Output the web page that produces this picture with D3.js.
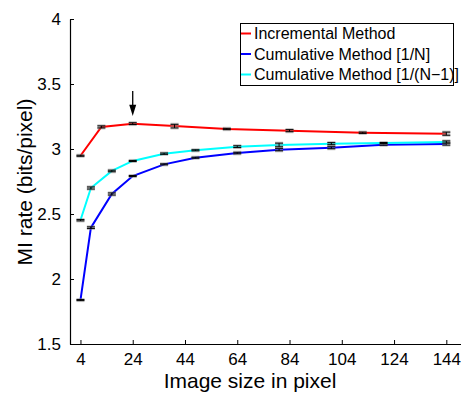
<!DOCTYPE html>
<html>
<head>
<meta charset="utf-8">
<script src="https://cdn.jsdelivr.net/npm/d3@7"></script>
<style>
  body { margin: 0; background: #fff; }
  svg { font-family: "Liberation Sans", Arial, sans-serif; }
</style>
</head>
<body>
<svg id="chart" width="461" height="393"></svg>
<script>
// image sizes
const incX = [4, 12, 24, 40, 60, 84, 112, 144];
const cumX = [4, 8, 16, 24, 36, 48, 64, 80, 100, 120, 144];

// MI rates (bits/pixel) and error half-widths
const incY = [2.948, 3.17, 3.195, 3.176, 3.154, 3.141, 3.125, 3.118];
const incErr = [0.004, 0.008, 0.007, 0.014, 0.005, 0.008, 0.005, 0.012];
const cumNY = [1.838, 2.395, 2.654, 2.792, 2.882, 2.933, 2.969, 2.995, 3.01, 3.033, 3.038];
const cumNErr = [0.004, 0.006, 0.008, 0.004, 0.004, 0.004, 0.006, 0.009, 0.008, 0.004, 0.008];
const cumN1Y = [2.452, 2.70, 2.831, 2.908, 2.964, 2.99, 3.018, 3.031, 3.041, 3.046, 3.054];
const cumN1Err = [0.005, 0.008, 0.006, 0.004, 0.005, 0.004, 0.007, 0.014, 0.008, 0.004, 0.008];

const xTicks = [4, 24, 44, 64, 84, 104, 124, 144];
const yTicks = [1.5, 2, 2.5, 3, 3.5, 4];

const seriesNames = ["Incremental Method", "Cumulative Method [1/N]", "Cumulative Method [1/(N\u22121)]"];
const seriesColors = ["#ff0000", "#0000ff", "#00ffff"];

const svg = d3.select("#chart");

const x = d3.scaleLinear().domain([0, 150]).range([70, 462]);
const y = d3.scaleLinear().domain([1.5, 4]).range([344, 19]);

// axes (ticks point inward like matlab)
const xAxis = d3.axisBottom(x).tickValues(xTicks).tickSize(-4).tickPadding(8).tickSizeOuter(0);
const yAxis = d3.axisLeft(y).tickValues(yTicks).tickSize(-4).tickPadding(9).tickSizeOuter(0)
    .tickFormat(d3.format("~g"));

const gx = svg.append("g").attr("transform", "translate(0,344)").call(xAxis);
const gy = svg.append("g").attr("transform", "translate(70,0)").call(yAxis);
[gx, gy].forEach(g => {
    g.select(".domain").attr("stroke", "#000").attr("stroke-width", 1.2);
    g.selectAll(".tick line").attr("stroke", "#000");
    g.selectAll(".tick text").attr("fill", "#000").style("font-size", "17px");
});
gx.selectAll(".tick text").attr("dy", "0.78em");

// axis labels
svg.append("text")
    .attr("x", 250).attr("y", 388)
    .attr("text-anchor", "middle")
    .style("font-size", "21px")
    .text("Image size in pixel");
svg.append("text")
    .attr("transform", "translate(32,182) rotate(-90)")
    .attr("text-anchor", "middle")
    .style("font-size", "21px")
    .text("MI rate (bits/pixel)");

const series = [
    {xs: incX, ys: incY, err: incErr},
    {xs: cumX, ys: cumNY, err: cumNErr},
    {xs: cumX, ys: cumN1Y, err: cumN1Err}
];

const line = d3.line().x(d => x(d.x)).y(d => y(d.y));

series.forEach((s, i) => {
    let data = s.xs.map((v, j) => ({x: v, y: s.ys[j], e: s.err[j]}));
    svg.append("path")
        .datum(data)
        .attr("fill", "none")
        .attr("stroke", seriesColors[i])
        .attr("stroke-width", 2)
        .attr("d", line);

    let bars = svg.append("g").selectAll("g").data(data).enter().append("g");
    bars.append("rect")
        .attr("x", d => x(d.x) - 4)
        .attr("y", d => y(d.y + d.e) - 1.5)
        .attr("width", 8)
        .attr("height", d => y(d.y - d.e) - y(d.y + d.e) + 3)
        .attr("fill", "#888")
        .attr("opacity", 0.5);
    bars.append("line")
        .attr("x1", d => x(d.x)).attr("x2", d => x(d.x))
        .attr("y1", d => y(d.y + d.e)).attr("y2", d => y(d.y - d.e))
        .attr("stroke", "#000").attr("stroke-width", 1);
    [1, -1].forEach(sign => {
        bars.append("line")
            .attr("x1", d => x(d.x) - 4).attr("x2", d => x(d.x) + 4)
            .attr("y1", d => y(d.y + sign * d.e)).attr("y2", d => y(d.y + sign * d.e))
            .attr("stroke", "#000").attr("stroke-width", 1);
    });
});

// arrow marking the peak of the incremental method
const arrowX = 24;
svg.append("line")
    .attr("x1", x(arrowX)).attr("x2", x(arrowX))
    .attr("y1", y(3.447)).attr("y2", y(3.33))
    .attr("stroke", "#000").attr("stroke-width", 1.3);
svg.append("path")
    .attr("d", `M${x(arrowX) - 3.5},${y(3.34)} L${x(arrowX) + 3.5},${y(3.34)} L${x(arrowX)},${y(3.254)} Z`)
    .attr("fill", "#000");

// legend
const legend = svg.append("g");
legend.append("rect")
    .attr("x", 240.5).attr("y", 23.5)
    .attr("width", 213).attr("height", 62)
    .attr("fill", "#fff").attr("stroke", "#000").attr("stroke-width", 1);
seriesNames.forEach((name, i) => {
    let ly = 33.5 + i * 20.5;
    legend.append("line")
        .attr("x1", 241).attr("x2", 251)
        .attr("y1", ly).attr("y2", ly)
        .attr("stroke", seriesColors[i]).attr("stroke-width", 2);
    legend.append("text")
        .attr("x", 254).attr("y", ly)
        .attr("dy", "0.36em")
        .style("font-size", "16px")
        .text(name);
});
</script>
</body>
</html>
